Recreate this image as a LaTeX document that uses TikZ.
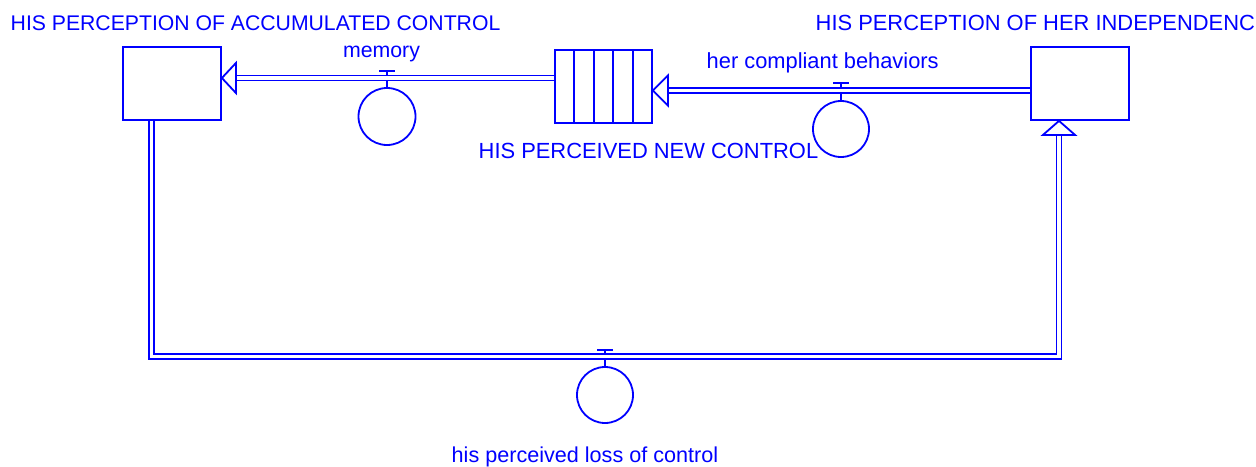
\documentclass[tikz,border=0pt]{standalone}
\usepackage{fontspec}
\setmainfont{Liberation Sans}
\usetikzlibrary{calc}
\begin{document}
\begin{tikzpicture}[x=1pt,y=-1pt,
  ink/.style={draw=blue, line width=1.8pt},
  stock/.style={ink, rectangle, minimum width=98pt, minimum height=73pt, inner sep=0pt},
  valve/.style={ink, circle, minimum size=56pt, inner sep=0pt},
  pipe/.style={draw=blue, line width=1.6pt, double=white, double distance=3.4pt},
  head/.style={ink, fill=white, line join=miter},
  label/.style={text=blue, inner sep=0pt, font=\fontsize{#1}{25}\selectfont},
  label/.default=21.8]
\clip (0,0) rectangle (1256,466);

% stocks and the conveyor
\node[stock] (ls) at (172,83.5) {};
\node[stock] (rs) at (1080,83.5) {};
\node[stock, minimum width=97pt] (conv) at (603.5,86.5) {};
\foreach \i in {1,...,4}
  \draw[ink] ($(conv.north west)!\i/5!(conv.north east)$) -- ($(conv.south west)!\i/5!(conv.south east)$);

% valves
\node[valve, minimum size=57pt] (vm) at (387,116.5) {};
\node[valve] (vc) at (841,129) {};
\node[valve] (vl) at (605,395) {};

% valve stems and bars
\coordinate (tm) at (387,71);
\coordinate (tc) at (841,83);
\coordinate (tl) at (605,350);
\foreach \v/\t in {vm/tm, vc/tc, vl/tl} {
  \draw[ink] (\v.north) -- (\t);
  \draw[ink] ([xshift=-8pt]\t) -- ([xshift=8pt]\t);
}

% flow pipes
\coordinate (hm) at (235,78);
\coordinate (hc) at (668,90.5);
\coordinate (lossL) at (151.5,356.5);
\coordinate (lossR) at (1059,356.5);
\coordinate (hl) at (1059,134);
\draw[pipe] (conv.west |- hm) -- (hm);
\draw[pipe] (rs.west |- hc) -- (hc);
\draw[pipe] (lossL |- ls.south) -- (lossL) -- (lossR) -- (hl);

% arrowheads
\draw[head] (ls.east |- hm) -- ++(14,-15) -- ++(0,30) -- cycle;
\draw[head] (conv.east |- hc) -- ++(15,-15) -- ++(0,30) -- cycle;
\draw[head] (rs.south -| hl) -- ++(-16,14) -- ++(32,0) -- cycle;

% labels
\node[label=21.2, anchor=base west] (tls) at (10.5,30) {HIS PERCEPTION OF ACCUMULATED CONTROL};
\node[label=21.9, anchor=base west] (trs) at (815.5,30) {HIS PERCEPTION OF HER INDEPENDENCE};
\node[label=21.9, anchor=base west] (tconv) at (478.5,158) {HIS PERCEIVED NEW CONTROL};
\node[label=21.3, anchor=base] (tvm) at (381.5,57) {memory};
\node[label=21.85, anchor=base west] (tvc) at (706.5,68) {her compliant behaviors};
\node[label=21.6, anchor=base west] (tvl) at (451.5,462) {his perceived loss of control};
\end{tikzpicture}
\end{document}
